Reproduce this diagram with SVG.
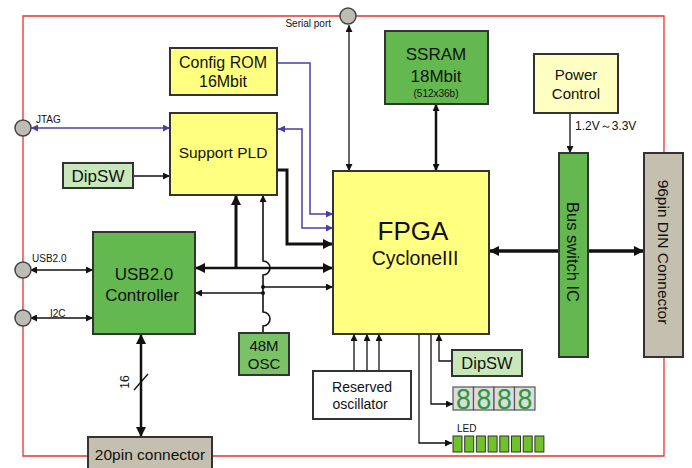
<svg xmlns="http://www.w3.org/2000/svg" width="692" height="468" viewBox="0 0 692 468">
<style>
text{font-family:"Liberation Sans",Arial,sans-serif;fill:#111}
.b{stroke:#333;stroke-width:2}
.y{fill:#ffff80}
.g{fill:#63b84f}
.lg{fill:#c8e8bc}
.gr{fill:#c4bfae}
.c{fill:#bdbdb5;stroke:#444;stroke-width:1.5}
.t{font-size:15.5px;text-anchor:middle}
.s{font-size:10px}
.d{font-size:28px;fill:#2a9a3a;text-anchor:middle}
.k{fill:none;stroke:#111;stroke-width:1.3}
.K{fill:none;stroke:#111;stroke-width:3}
.u{fill:none;stroke:#4a3fa8;stroke-width:1.5}
.r{fill:none;stroke:#e8322a;stroke-width:1.3}
</style>
<defs>
<marker id="a" viewBox="0 0 10 10" refX="10" refY="5" markerWidth="9" markerHeight="7" markerUnits="userSpaceOnUse" orient="auto-start-reverse"><path d="M0,0L10,5L0,10z" fill="#111"/></marker>
<marker id="A" viewBox="0 0 10 10" refX="10" refY="5" markerWidth="12" markerHeight="10" markerUnits="userSpaceOnUse" orient="auto-start-reverse"><path d="M0,0L10,5L0,10z" fill="#111"/></marker>
<marker id="B" viewBox="0 0 10 10" refX="10" refY="5" markerWidth="9" markerHeight="7" markerUnits="userSpaceOnUse" orient="auto-start-reverse"><path d="M0,0L10,5L0,10z" fill="#4a3fa8"/></marker>
</defs>

<g id="border">
<path class="r" d="M88,456H23V16H664V153"/>
<path class="r" d="M212,456H664V357"/>
</g>

<g id="connectors">
<path class="u" d="M31,128H170" marker-start="url(#B)" marker-end="url(#B)"/>
<path class="k" d="M133,176H170" marker-end="url(#a)"/>
<path class="u" d="M277,63H310V214H333" marker-end="url(#B)"/>
<path class="u" d="M333,228H302V129H278" marker-start="url(#B)" marker-end="url(#B)"/>
<path class="K" d="M277,170H287V244H333" marker-end="url(#A)"/>
<path class="k" d="M349,25V171" marker-start="url(#a)" marker-end="url(#a)"/>
<path class="k" style="stroke-width:2.5" d="M436,104V171" marker-start="url(#a)" marker-end="url(#a)"/>
<path class="k" d="M570,113V153" marker-end="url(#a)"/>
<path class="K" style="stroke-width:3.5" d="M489,251H644" marker-start="url(#A)" marker-end="url(#A)"/>
<path class="K" style="stroke-width:2.5" d="M195,268H333" marker-start="url(#A)" marker-end="url(#A)"/>
<path class="K" d="M236,268V195" marker-end="url(#A)"/>
<path class="k" style="stroke-width:1.6" d="M263,333V326A7,7 0 0 0 263,312V275A7,7 0 0 0 263,261V195" marker-end="url(#a)"/>
<path class="k" d="M263,287H333" marker-end="url(#a)"/>
<path class="k" d="M263,293H195" marker-end="url(#a)"/>
<circle cx="263" cy="287" r="2" fill="#111"/>
<circle cx="263" cy="293" r="2" fill="#111"/>
<path class="k" d="M30,270H93" marker-start="url(#a)" marker-end="url(#a)"/>
<path class="k" d="M30,318H93" marker-start="url(#a)" marker-end="url(#a)"/>
<path class="K" style="stroke-width:2.5" d="M141,334V437" marker-start="url(#A)" marker-end="url(#A)"/>
<path class="k" d="M134,390L148,374"/>
<text transform="translate(129,382) rotate(-90)" text-anchor="middle" style="font-size:12px">16</text>
<path class="k" d="M354,371V334" marker-end="url(#a)"/>
<path class="k" d="M367,371V334" marker-end="url(#a)"/>
<path class="k" d="M379,371V334" marker-end="url(#a)"/>
<path class="k" d="M419,334V443H452" marker-end="url(#a)"/>
<path class="k" d="M431,334V404H453" marker-end="url(#a)"/>
<path class="k" d="M452,361H439V334" marker-end="url(#a)"/>
</g>

<g id="serial-port"><circle class="c" cx="348" cy="16" r="8"/><text class="s" x="331" y="27" text-anchor="end">Serial port</text></g>
<g id="jtag"><circle class="c" cx="23" cy="128" r="8"/><text class="s" x="36" y="123">JTAG</text></g>
<g id="usb-port"><circle class="c" cx="23" cy="270" r="8"/><text class="s" x="32" y="262">USB2.0</text></g>
<g id="i2c-port"><circle class="c" cx="23" cy="318" r="8"/><text class="s" x="50" y="317">I2C</text></g>

<g id="config-rom"><rect class="b y" x="170" y="48" width="107" height="47"/><text class="t" x="223" y="68" style="font-size:16px">Config ROM</text><text class="t" x="223" y="87" style="font-size:16px">16Mbit</text></g>
<g id="support-pld"><rect class="b y" x="170" y="113" width="107" height="82"/><text class="t" x="223" y="158">Support PLD</text></g>
<g id="dipsw-left"><rect class="b lg" x="63" y="163" width="70" height="25"/><text class="t" x="98" y="182" style="font-size:17px">DipSW</text></g>
<g id="ssram"><rect class="b g" x="385" y="31" width="103" height="73"/><text class="t" x="436" y="60" style="font-size:17px">SSRAM</text><text class="t" x="436" y="82" style="font-size:17px">18Mbit</text><text class="t" x="436" y="97" style="font-size:10px">(512x36b)</text></g>
<g id="power-control"><rect class="b" fill="#ffffc4" x="534" y="54" width="84" height="59"/><text class="t" x="576" y="80" style="font-size:15px">Power</text><text class="t" x="576" y="99" style="font-size:15px">Control</text><text x="575" y="130" style="font-size:12px">1.2V～3.3V</text></g>
<g id="fpga"><rect class="b y" x="333" y="171" width="156" height="163"/><text class="t" x="413" y="240" style="font-size:26px">FPGA</text><text class="t" x="415" y="265" style="font-size:19.5px">CycloneIII</text></g>
<g id="bus-switch"><rect class="b g" x="559" y="153" width="29" height="204"/><text class="t" style="font-size:16.5px" transform="translate(567,252) rotate(90)">Bus switch IC</text></g>
<g id="din-connector"><rect class="b gr" x="644" y="153" width="39" height="204"/><text class="t" style="font-size:15.5px" transform="translate(658,252) rotate(90)">96pin DIN Connector</text></g>
<g id="usb-controller"><rect class="b g" x="93" y="232" width="102" height="102"/><text class="t" x="144" y="280" style="font-size:17px">USB2.0</text><text class="t" x="142" y="301" style="font-size:17px">Controller</text></g>
<g id="osc-48m"><rect class="b" fill="#79c266" x="239" y="333" width="50" height="42"/><text class="t" x="264" y="351" style="font-size:15px">48M</text><text class="t" x="264" y="369" style="font-size:15px">OSC</text></g>
<g id="connector-20pin"><rect class="b gr" x="88" y="437" width="124" height="36"/><text class="t" x="150" y="460">20pin connector</text></g>
<g id="reserved-osc"><rect class="b" fill="#fff" stroke-width="1.5" x="313" y="371" width="98" height="48"/><text class="t" x="362" y="392" style="font-size:14px">Reserved</text><text class="t" x="360" y="409" style="font-size:14px">oscillator</text></g>
<g id="dipsw-right"><rect class="b lg" x="452" y="350" width="70" height="26"/><text class="t" x="487" y="369" style="font-size:16.5px">DipSW</text></g>
<g id="seven-seg">
<rect fill="#dcdcdc" stroke="#555" stroke-width="1.2" x="453" y="387" width="20.5" height="23"/>
<rect fill="#dcdcdc" stroke="#555" stroke-width="1.2" x="473.5" y="387" width="20.5" height="23"/>
<rect fill="#dcdcdc" stroke="#555" stroke-width="1.2" x="494" y="387" width="20.5" height="23"/>
<rect fill="#dcdcdc" stroke="#555" stroke-width="1.2" x="514.5" y="387" width="20.5" height="23"/>
<text class="d" transform="translate(463.3,409) scale(0.95,1.08)">8</text>
<text class="d" transform="translate(483.8,409) scale(0.95,1.08)">8</text>
<text class="d" transform="translate(504.3,409) scale(0.95,1.08)">8</text>
<text class="d" transform="translate(524.8,409) scale(0.95,1.08)">8</text>
</g>
<g id="led">
<text class="s" x="457" y="432">LED</text>
<g fill="#6fc22a" stroke="#333" stroke-width="1">
<rect x="453" y="436" width="9" height="16"/><rect x="464.7" y="436" width="9" height="16"/><rect x="476.4" y="436" width="9" height="16"/><rect x="488.1" y="436" width="9" height="16"/><rect x="499.8" y="436" width="9" height="16"/><rect x="511.5" y="436" width="9" height="16"/><rect x="523.2" y="436" width="9" height="16"/><rect x="534.9" y="436" width="9" height="16"/>
</g>
</g>
</svg>
